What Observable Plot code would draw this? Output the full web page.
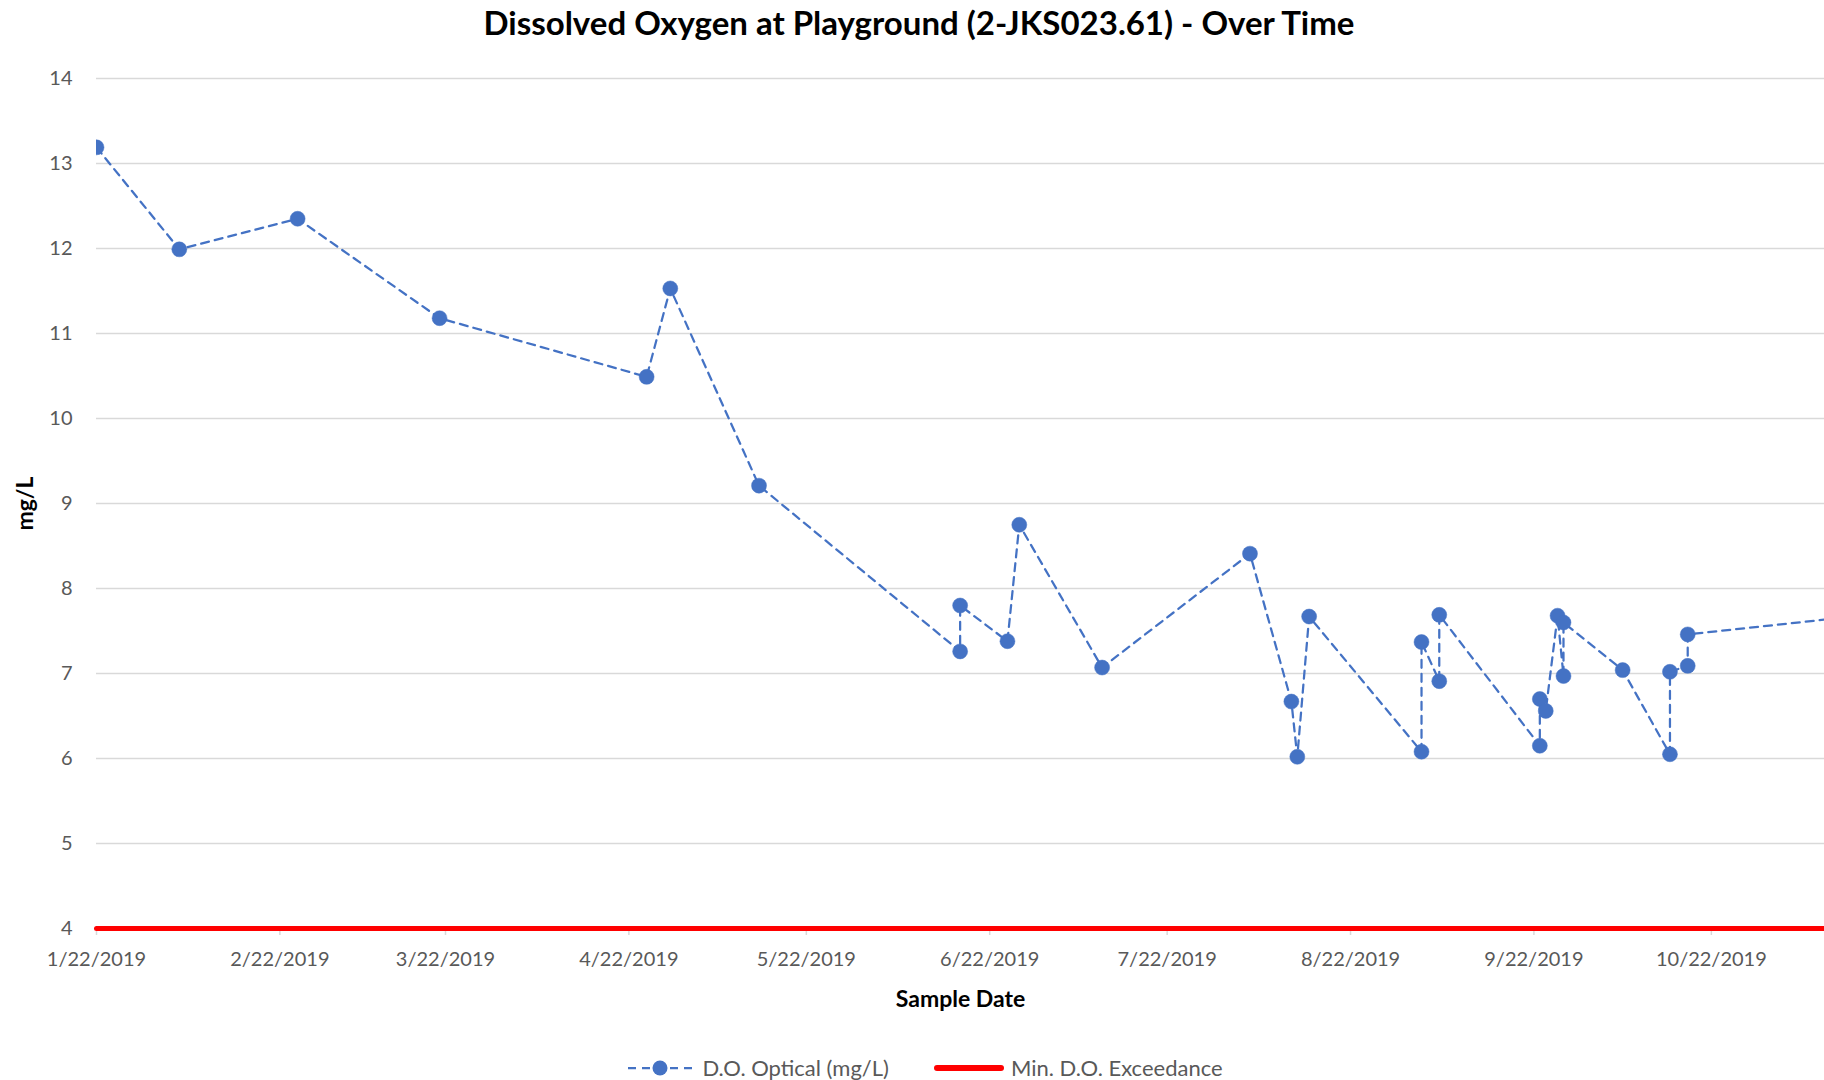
<!DOCTYPE html>
<html>
<head>
<meta charset="utf-8">
<script src="https://cdn.jsdelivr.net/npm/d3@7"></script>
<script src="https://cdn.jsdelivr.net/npm/@observablehq/plot@0.6"></script>
<style>
  html, body { margin: 0; padding: 0; background: #fff; }
  body { width: 1824px; height: 1080px; overflow: hidden; font-family: Lato, "Open Sans", sans-serif; }
  #title { height: 48px; text-align: center; font-weight: bold; font-size: 33px; line-height: 44px; color: #000; padding-left: 14px; box-sizing: border-box; }
  #chart svg { display: block; }
  g[aria-label="x-axis label"] text, g[aria-label="y-axis label"] text { font-weight: bold; fill: #000; font-size: 23px; }
  #legend { height: 32px; display: flex; justify-content: center; align-items: center; font-size: 22px; color: #595959; padding-left: 26px; padding-top: 7px; box-sizing: border-box; }
  #legend .item { display: flex; align-items: center; }
  #legend svg { display: block; }
</style>
</head>
<body>
<div id="title">Dissolved Oxygen at Playground (2-JKS023.61) - Over Time</div>
<div id="chart"></div>
<div id="legend"></div>
<script>
// ---- data ----
const sampleDates = [
  "2019-01-22", "2019-02-05", "2019-02-25", "2019-03-21", "2019-04-25", "2019-04-29",
  "2019-05-14", "2019-06-17", "2019-06-17", "2019-06-25", "2019-06-27", "2019-07-11",
  "2019-08-05", "2019-08-12", "2019-08-13", "2019-08-15", "2019-09-03", "2019-09-03",
  "2019-09-06", "2019-09-06", "2019-09-23", "2019-09-23", "2019-09-24", "2019-09-26",
  "2019-09-27", "2019-09-27", "2019-10-07", "2019-10-15", "2019-10-15", "2019-10-18",
  "2019-10-18", "2019-11-19"
];
const doOptical = [
  13.19, 11.99, 12.35, 11.18, 10.49, 11.53,
  9.21, 7.26, 7.80, 7.38, 8.75, 7.07,
  8.41, 6.67, 6.02, 7.67, 6.08, 7.37,
  6.91, 7.69, 6.15, 6.70, 6.56, 7.68,
  6.97, 7.60, 7.04, 6.05, 7.02, 7.09,
  7.46, 7.70
];
const minDOExceedance = 4;
const xTickLabels = [
  "2019-01-22", "2019-02-22", "2019-03-22", "2019-04-22", "2019-05-22",
  "2019-06-22", "2019-07-22", "2019-08-22", "2019-09-22", "2019-10-22"
];
const yTicks = [4, 5, 6, 7, 8, 9, 10, 11, 12, 13, 14];
const xStart = "2019-01-22T00:00";
const xEnd = "2019-11-10T03:00";
const seriesNames = ["D.O. Optical (mg/L)", "Min. D.O. Exceedance"];

// ---- build ----
const parse = d3.utcParse("%Y-%m-%d");
const parseT = d3.utcParse("%Y-%m-%dT%H:%M");
const fmt = d3.utcFormat("%-m/%-d/%Y");
const data = sampleDates.map((d, i) => ({date: parse(d), value: doOptical[i]}));
const xDomain = [parseT(xStart), parseT(xEnd)];
const exceed = xDomain.map(d => ({date: d, value: minDOExceedance}));
const xTicks = xTickLabels.map(parse);

const blue = "#4472C4";
const red = "#FF0000";

const chart = Plot.plot({
  width: 1824,
  height: 1000,
  marginTop: 30,
  marginBottom: 120,
  marginLeft: 96,
  marginRight: 0,
  style: {fontFamily: "Lato, 'Open Sans', sans-serif", fontSize: "20px", color: "#595959", background: "#fff", overflow: "visible"},
  x: {type: "utc", domain: xDomain},
  y: {domain: [4, 14]},
  marks: [
    Plot.gridY(yTicks, {stroke: "#d9d9d9", strokeOpacity: 1, strokeWidth: 1.5}),
    Plot.axisY(yTicks, {tickSize: 0, tickPadding: 24, tickFormat: d => d, label: "mg/L", labelAnchor: "center", labelArrow: "none", labelOffset: 80}),
    Plot.axisX(xTicks, {tickSize: 7, tickPadding: 16, stroke: "#d9d9d9", strokeWidth: 1.5, tickFormat: fmt, label: "Sample Date", labelAnchor: "center", labelArrow: "none", labelOffset: 78}),
    Plot.line(exceed, {x: "date", y: "value", stroke: red, strokeWidth: 5}),
    Plot.line(data, {x: "date", y: "value", stroke: blue, strokeWidth: 2.25, strokeDasharray: "8,6", clip: true}),
    Plot.dot(data, {x: "date", y: "value", r: 7.5, fill: blue, stroke: blue, strokeWidth: 0.5, clip: true})
  ]
});
document.getElementById("chart").appendChild(chart);

// ---- legend ----
const legend = d3.select("#legend");
const it1 = legend.append("div").attr("class", "item");
const s1 = it1.append("svg").attr("width", 66).attr("height", 20);
s1.append("line").attr("x1", 1).attr("x2", 65).attr("y1", 10).attr("y2", 10)
  .attr("stroke", blue).attr("stroke-width", 2.25).attr("stroke-dasharray", "8,6");
s1.append("circle").attr("cx", 33).attr("cy", 10).attr("r", 7.5).attr("fill", blue);
it1.append("span").style("margin-left", "9px").text(seriesNames[0]);
const it2 = legend.append("div").attr("class", "item").style("margin-left", "44px");
const s2 = it2.append("svg").attr("width", 72).attr("height", 20);
s2.append("line").attr("x1", 4).attr("x2", 68).attr("y1", 10).attr("y2", 10)
  .attr("stroke", red).attr("stroke-width", 6).attr("stroke-linecap", "round");
it2.append("span").style("margin-left", "6px").text(seriesNames[1]);
</script>
</body>
</html>
